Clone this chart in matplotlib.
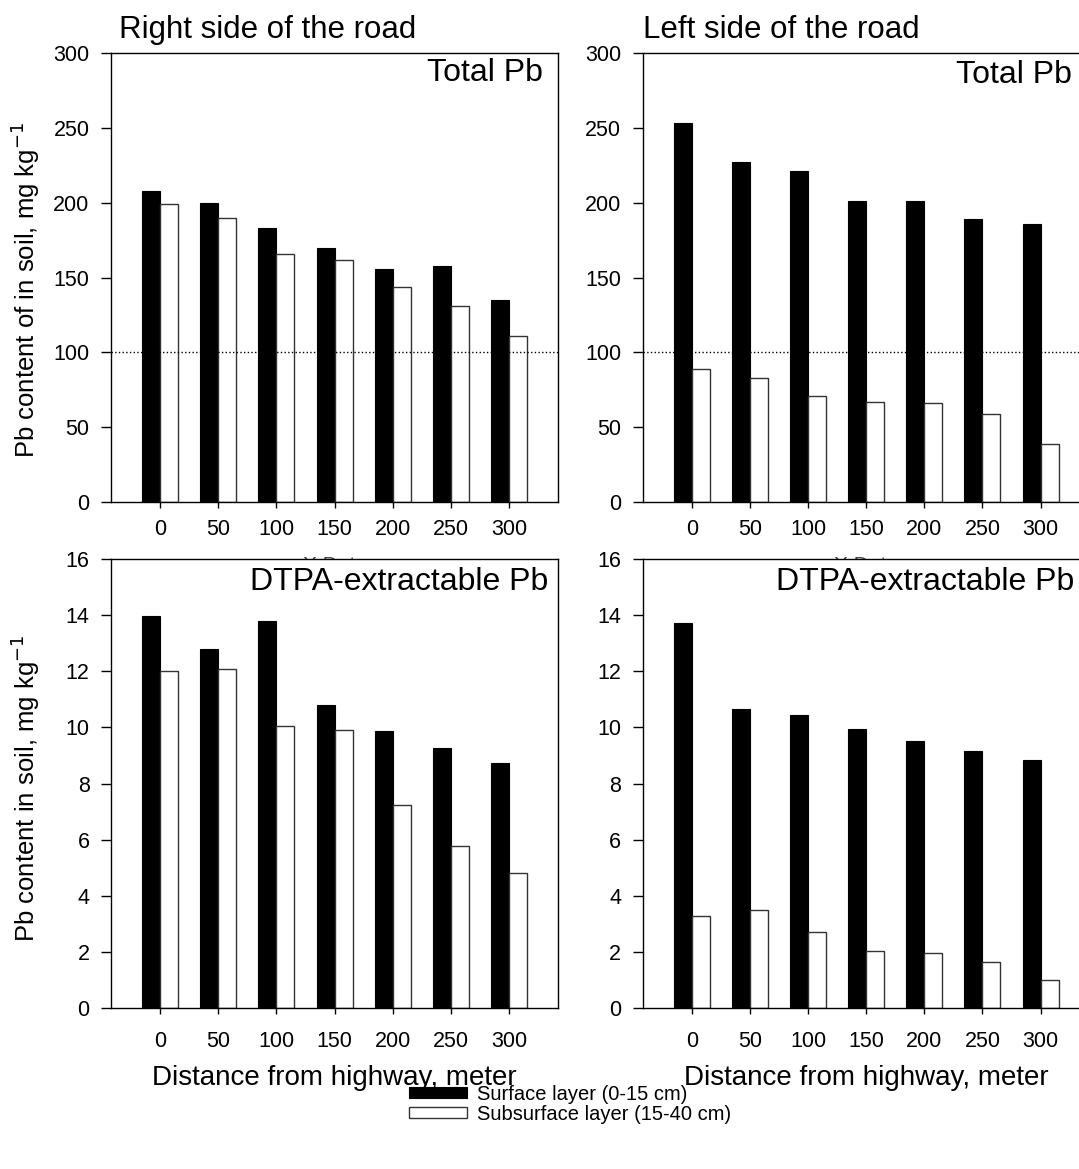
import numpy as np
import matplotlib

matplotlib.use('Agg')
import matplotlib.pyplot as plt

plt.rcParams['font.family'] = ['Liberation Sans', 'DejaVu Sans']

distance = [0, 50, 100, 150, 200, 250, 300]

# total Pb, mg/kg
total_right_surface = [208, 200, 183, 170, 156, 158, 135]
total_right_subsurface = [199, 190, 166, 162, 144, 131, 111]
total_left_surface = [253, 227, 221, 201, 201, 189, 186]
total_left_subsurface = [89, 83, 71, 67, 66, 59, 39]

# DTPA-extractable Pb, mg/kg
dtpa_right_surface = [13.97, 12.78, 13.78, 10.80, 9.87, 9.27, 8.73]
dtpa_right_subsurface = [12.00, 12.08, 10.05, 9.90, 7.25, 5.78, 4.83]
dtpa_left_surface = [13.72, 10.66, 10.45, 9.93, 9.53, 9.17, 8.85]
dtpa_left_subsurface = [3.29, 3.50, 2.73, 2.04, 1.96, 1.64, 1.01]

layer_labels = ['Surface layer (0-15 cm)', 'Subsurface layer (15-40 cm)']

fig = plt.figure(figsize=(10.79, 11.69), dpi=100)

ax_w = 0.4143
ax_h = 0.3845
x_left = [0.1029, 0.5956]
y_bottom = [0.5703, 0.1375]

bar_w = 0.31


def draw_panel(ax, surface, subsurface, ymax, ystep, tag, tag_x, tag_y, xpad):
    pos = np.arange(len(distance))
    b1 = ax.bar(pos - bar_w / 2, surface, bar_w, color='black', edgecolor='black', linewidth=0.8)
    b2 = ax.bar(pos + bar_w / 2, subsurface, bar_w, color='white', edgecolor='#333333', linewidth=1.0)
    ax.set_xlim(-0.845, 6.845)
    ax.set_ylim(0, ymax)
    ax.set_yticks(np.arange(0, ymax + ystep / 2, ystep))
    ax.set_xticks(pos)
    ax.set_xticklabels([str(d) for d in distance])
    ax.tick_params(axis='y', direction='out', length=7, width=1, labelsize=15.5, pad=8.5)
    ax.tick_params(axis='x', direction='out', length=4.3, width=1, labelsize=15.5, pad=xpad)
    for s in ax.spines.values():
        s.set_linewidth(1.0)
    ax.text(tag_x, tag_y, tag, transform=ax.transAxes, ha='right', va='baseline', fontsize=23)
    return b1, b2


# top row drawn first so the lower axes sit on top of its x label
ax1 = fig.add_axes([x_left[0], y_bottom[0], ax_w, ax_h], zorder=1)
ax2 = fig.add_axes([x_left[1], y_bottom[0], ax_w, ax_h], zorder=1)
ax3 = fig.add_axes([x_left[0], y_bottom[1], ax_w, ax_h], zorder=2)
ax4 = fig.add_axes([x_left[1], y_bottom[1], ax_w, ax_h], zorder=2)

handles = draw_panel(ax1, total_right_surface, total_right_subsurface, 300, 50,
                     'Total Pb', 0.966, 0.938, 8)
draw_panel(ax2, total_left_surface, total_left_subsurface, 300, 50,
           'Total Pb', 0.960, 0.932, 8)
draw_panel(ax3, dtpa_right_surface, dtpa_right_subsurface, 16, 2,
           'DTPA-extractable Pb', 0.978, 0.931, 12)
draw_panel(ax4, dtpa_left_surface, dtpa_left_subsurface, 16, 2,
           'DTPA-extractable Pb', 0.966, 0.931, 12)

# placeholder axis titles, mostly covered by the lower panels
for ax in (ax1, ax2):
    ax.axhline(100, color='black', linestyle=':', linewidth=1.0)
    ax.set_xlabel('X Data', fontsize=15, labelpad=11.5, color='#444444')

ax1.text(0.018, 1.033, 'Right side of the road', transform=ax1.transAxes,
         ha='left', va='baseline', fontsize=22.5)
ax2.text(0.0, 1.033, 'Left side of the road', transform=ax2.transAxes,
         ha='left', va='baseline', fontsize=22.5)

ax1.set_ylabel('Pb content of in soil, mg kg$^{-1}$', fontsize=18.5)
ax3.set_ylabel('Pb content in soil, mg kg$^{-1}$', fontsize=18.5)
ax1.yaxis.set_label_coords(-0.155, 0.473)
ax3.yaxis.set_label_coords(-0.155, 0.49)

for ax in (ax3, ax4):
    ax.set_xlabel('Distance from highway, meter', fontsize=20, labelpad=9.5)

fig.legend(handles, layer_labels, loc='upper left', bbox_to_anchor=(0.379, 0.0719),
           frameon=False, fontsize=14.5, handlelength=2.9, handleheight=0.45,
           handletextpad=0.5, labelspacing=0.05, borderpad=0.0, borderaxespad=0.0)

fig.savefig('out.png', dpi=100)
